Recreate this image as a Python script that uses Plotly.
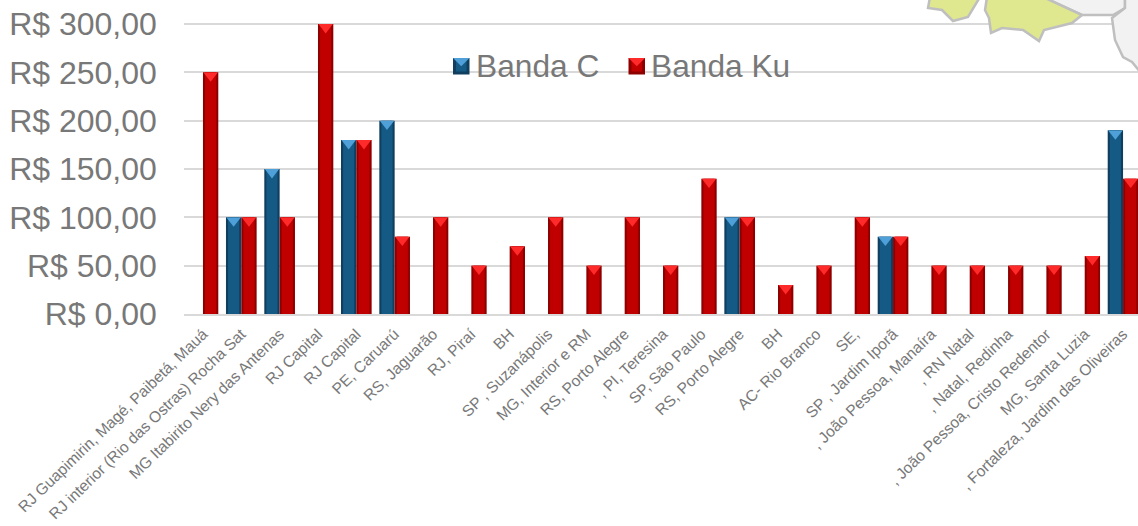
import plotly.graph_objects as go

W, H = 1138, 526
categories = ["RJ Guapimirin, Magé, Paibetá, Mauá", "RJ interior (Rio das Ostras) Rocha Sat",
              "MG Itabirito Nery das Antenas", "RJ Capital", "RJ Capital", "PE, Caruarú", "RS, Jaguarão",
              "RJ, Piraí", "BH", "SP , Suzanápolis", "MG, Interior e RM", "RS, Porto Alegre", ", PI, Teresina",
              "SP, São Paulo", "RS, Porto Alegre", "BH", "AC- Rio Branco", "SE,", "SP , Jardim Iporã",
              ", João Pessoa, Manaíra", ", RN Natal", ", Natal, Redinha", ", João Pessoa, Cristo Redentor",
              "MG, Santa Luzia", ", Fortaleza, Jardim das Oliveiras"]
banda_c = [None, 100, 150, None, 180, 200, None, None, None, None, None, None, None, None, 100, None, None,
           None, 80, None, None, None, None, None, 190]
banda_ku = [250, 100, 100, 300, 180, 80, 100, 50, 70, 100, 50, 100, 50, 140, 100, 30, 50, 100, 80, 50, 50, 50,
            50, 60, 140]
tick_values = [0, 50, 100, 150, 200, 250, 300]
tick_labels = ["R$ 0,00", "R$ 50,00", "R$ 100,00", "R$ 150,00", "R$ 200,00", "R$ 250,00", "R$ 300,00"]

AX_L, AX_B, AX_T300 = 183.8, 314, 24
UNIT_PX = (AX_B - AX_T300) / 300
ymax = AX_B / UNIT_PX
idx = list(range(len(categories)))
HALF = 0.2
TEXT = "#787878"


def add_series(fig, vals, off, dark, mid, cap):
    xs = [i + off for i in idx]
    fig.add_trace(go.Bar(x=xs, y=vals, width=0.4, marker=dict(color=dark, line=dict(width=0)), showlegend=False, hoverinfo="skip"))
    fig.add_trace(go.Bar(x=xs, y=vals, width=0.29, marker=dict(color=mid, line=dict(width=0)), showlegend=False))
    ys = [None if v is None else v - 3.2 / UNIT_PX for v in vals]
    fig.add_trace(go.Scatter(x=xs, y=ys, mode="markers", showlegend=False, hoverinfo="skip", cliponaxis=False,
                             marker=dict(symbol="triangle-down", size=12.5, color=cap, line=dict(width=0))))


fig = go.Figure()
add_series(fig, banda_c, -HALF, "#0F3E5F", "#155A85", "#4F9FD8")
add_series(fig, banda_ku, HALF, "#8E0000", "#C00000", "#FF2A2A")
for name, leg in (("Banda C", "legend"), ("Banda Ku", "legend2")):
    fig.add_trace(go.Scatter(x=[None], y=[None], mode="markers", name=name, legend=leg, showlegend=True,
                             marker=dict(symbol="square", size=16, color="rgba(0,0,0,0)",
                                         line=dict(width=0, color="rgba(0,0,0,0)"))))


def path(points, close=True):
    s = "M " + " L ".join(f"{x / W:.5f},{1 - y / H:.5f}" for x, y in points)
    return s + (" Z" if close else "")


yellow = "#DFE78F"
gray = "#F2F2F2"
edge = "#BFBFBF"
map_a = [(930, -3), (928, 8), (942, 10), (953, 21), (968, 17), (980, -3)]
map_b = [(987, -3), (985, 10), (989, 18), (991, 33), (1002, 28), (1023, 30), (1039, 41), (1044, 30), (1072, 23),
         (1082, 15), (1043, -3)]
map_c = [(1043, -3), (1082, 15), (1113, 15), (1125, 8), (1125, -3)]
map_d = [(1125, 8), (1112, 18), (1115, 40), (1123, 57), (1132, 62), (1141, 73), (1141, -3), (1125, -3)]
shapes = [dict(type="path", xref="paper", yref="paper", path=path(p), fillcolor=c,
               line=dict(color=edge, width=2.5), layer="above")
          for p, c in ((map_c, gray), (map_d, gray), (map_a, yellow), (map_b, yellow))]


def key(x0, y0, s, dark, mid, cap):
    x1, y1 = x0 + s, y0 + s
    cx, cy = x0 + s / 2, y0 + s / 2
    return [
        dict(type="rect", xref="paper", yref="paper", x0=x0 / W, x1=x1 / W, y0=1 - y1 / H, y1=1 - y0 / H,
             fillcolor=dark, line=dict(width=0), layer="above"),
        dict(type="rect", xref="paper", yref="paper", x0=(x0 + 3) / W, x1=(x1 - 3) / W, y0=1 - (y1 - 3) / H, y1=1 - y0 / H,
             fillcolor=mid, line=dict(width=0), layer="above"),
        dict(type="path", xref="paper", yref="paper", path=path([(x0, y0), (x1, y0), (cx, cy)]),
             fillcolor=cap, line=dict(width=0), layer="above"),
    ]


shapes += key(453, 58, 16.5, "#0F3E5F", "#155A85", "#4F9FD8")
shapes += key(628.5, 58, 16.5, "#8E0000", "#C00000", "#FF2A2A")

fig.update_layout(
    width=W, height=H, margin=dict(l=0, r=0, t=0, b=0), paper_bgcolor="white", plot_bgcolor="white",
    barmode="overlay", shapes=shapes, font=dict(family="Liberation Sans, Arial, sans-serif", color=TEXT),
    legend=dict(x=436 / W, xanchor="left", y=1 - 65 / H, yanchor="middle",
                font=dict(size=31.7, color=TEXT), bgcolor="rgba(0,0,0,0)", itemwidth=30),
    legend2=dict(x=611 / W, xanchor="left", y=1 - 65 / H, yanchor="middle",
                 font=dict(size=31.7, color=TEXT), bgcolor="rgba(0,0,0,0)", itemwidth=30),
    xaxis=dict(domain=[AX_L / W, 1], range=[-0.5, 24.39], tickmode="array", tickvals=idx,
               ticktext=categories, tickangle=-44, tickfont=dict(size=15.6, color=TEXT), showgrid=False,
               showline=True, linecolor="#D9D9D9", linewidth=2, ticks="", automargin=False, zeroline=False,
               ticklabelstandoff=3),
    yaxis=dict(domain=[1 - AX_B / H, 1], range=[0, ymax], tickmode="array", tickvals=tick_values,
               ticktext=tick_labels, tickfont=dict(size=32, color=TEXT), showgrid=True,
               gridcolor="#D9D9D9", gridwidth=1.5, zeroline=False, ticks="", automargin=False,
               ticklabelstandoff=26),
)
fig.write_html("out.html", config={"displayModeBar": False},
               post_script="document.body.style.margin='0';document.body.style.overflow='hidden';")
